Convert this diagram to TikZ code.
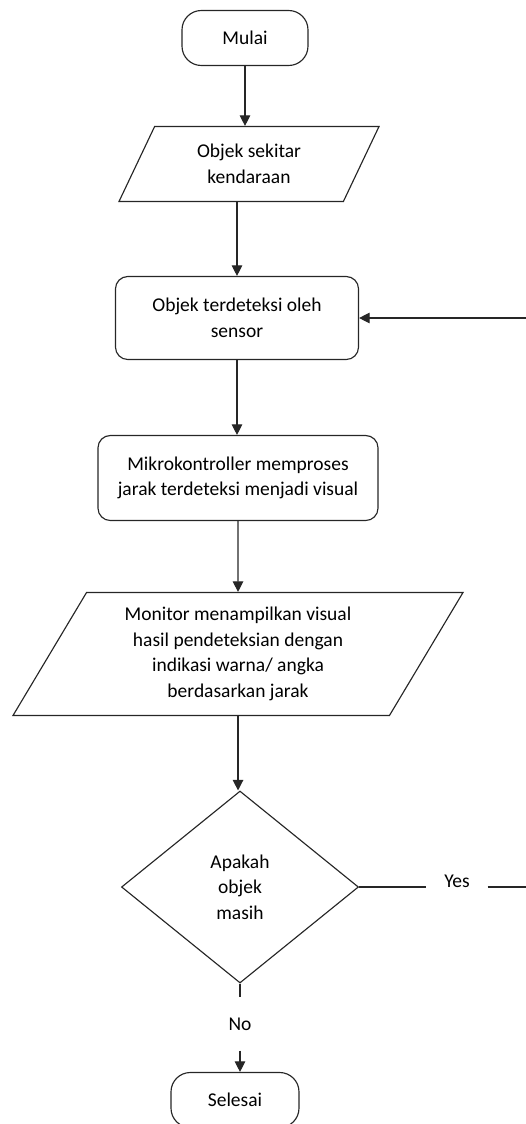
\documentclass[tikz,border=0pt]{standalone}
\usepackage{fontspec}
\setmainfont{Carlito}
\usetikzlibrary{shapes.geometric,arrows.meta}

\tikzset{
  terminal/.style={draw, rectangle, rounded corners=11pt, minimum width=2.52cm, minimum height=1.1cm},
  process/.style={draw, rectangle, rounded corners=7pt, align=center},
  data/.style={draw, trapezium, trapezium left angle=55, trapezium right angle=125,
    trapezium stretches body, align=center},
  decision/.style={draw, diamond, minimum width=4.74cm, minimum height=3.84cm, inner sep=0pt, align=center}
}

\begin{document}
\begin{tikzpicture}[x=0.2mm, y=-0.2mm, line width=0.65pt, draw=black!85,
  font=\fontsize{11.1}{14.5}\selectfont, >={Triangle[length=6pt,width=6pt]}]
  \useasboundingbox (0,0) rectangle (526,1124);

  \node[terminal] (start) at (245,38) {Mulai};
  \node[data, minimum width=5.2cm, minimum height=1.5cm] (input) at (249,164) {Objek sekitar\\kendaraan};
  \node[process, minimum width=4.86cm, minimum height=1.66cm] (sensor) at (237,318) {Objek terdeteksi oleh\\sensor};
  \node[process, minimum width=5.6cm, minimum height=1.7cm] (mcu) at (238,478) {Mikrokontroller memproses\\jarak terdeteksi menjadi visual};
  \node[data, minimum width=9cm, minimum height=2.46cm] (monitor) at (238,654)
    {Monitor menampilkan visual\\hasil pendeteksian dengan\\indikasi warna/ angka\\berdasarkan jarak};
  \node[decision] (check) at (240,887) {Apakah\\objek\\masih};
  \node[minimum width=1.2cm] (yes) at (457,881) {Yes};
  \node[minimum height=1.04cm] (no) at (240,1024) {No};
  \node[terminal, minimum width=2.56cm] (stop) at (235,1100) {Selesai};

  \coordinate (edge) at (526,887);

  \draw[->] (start.south) -- (start.south |- input.north);
  \draw[->] (sensor.north |- input.south) -- (sensor.north);
  \draw[->] (sensor.south) -- (sensor.south |- mcu.north);
  \draw[->] (mcu.south) -- (monitor.north);
  \draw[->] (monitor.south) -- (monitor.south |- check.north);

  \draw (check.east) -- (check.east -| yes.west);
  \draw (yes.east |- check.east) -- (edge);
  \draw[->] (sensor.east -| edge) -- (sensor.east);

  \draw (check.south) -- (no.north);
  \draw[->] (no.south) -- (no.south |- stop.north);
\end{tikzpicture}
\end{document}
